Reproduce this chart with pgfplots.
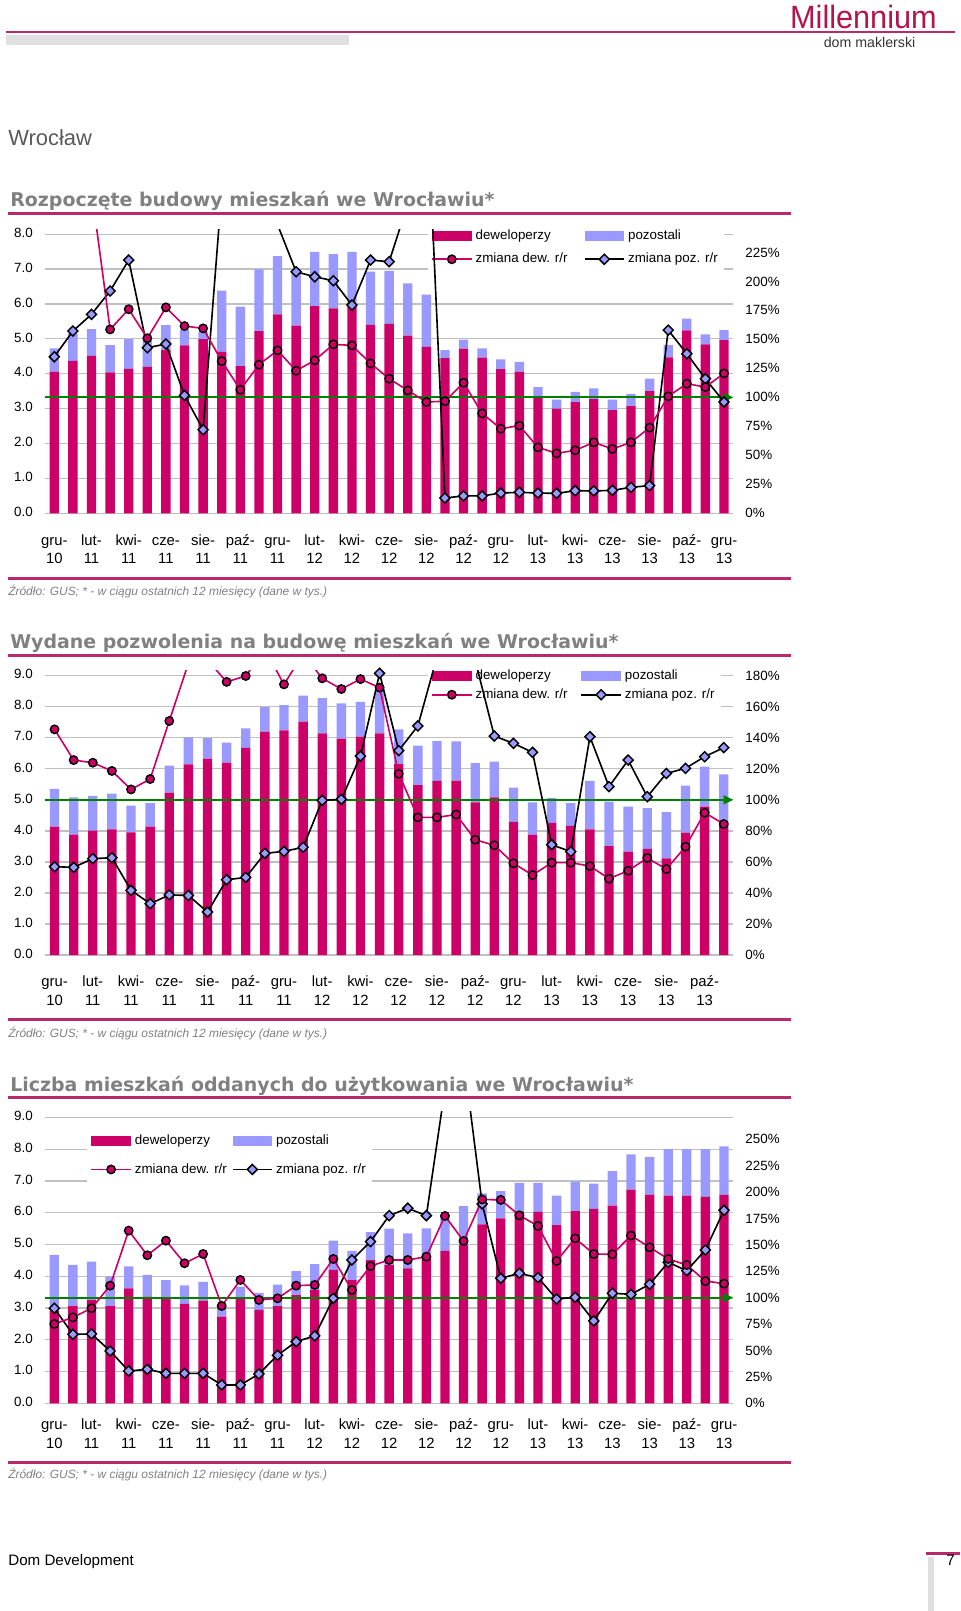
\documentclass[border=0pt]{standalone}
\usepackage{pgfplots}
\pgfplotsset{compat=1.18}
\usepackage{pgfplotstable}
\usepackage{fontspec}
\setmainfont{Liberation Sans}
\newfontfamily\titlefont{DejaVu Sans}
\usetikzlibrary{arrows.meta}

\definecolor{devcol}{RGB}{204,0,102}
\definecolor{pozcol}{RGB}{153,153,255}
\definecolor{gridcol}{RGB}{192,192,192}
\definecolor{rulecol}{RGB}{186,40,110}
\definecolor{titlegray}{RGB}{128,128,128}
\definecolor{grn}{RGB}{0,128,0}
\definecolor{logocol}{RGB}{180,20,75}

% Rozpoczete budowy
\pgfplotstableread{
i dev poz dewr pozr
0 4.06 0.67 330 135.0
1 4.37 0.78 310 157.2
2 4.51 0.77 279 171.6
3 4.04 0.78 158.6 191.7
4 4.14 0.85 176.0 218.4
5 4.20 0.75 151.0 142.8
6 4.68 0.71 177.6 146.0
7 4.81 0.44 161.5 101.7
8 4.99 0.21 159.5 72.1
9 4.63 1.75 131.3 278
10 4.22 1.70 106.6 330
11 5.22 1.77 128.2 300
12 5.70 1.67 140.5 249
13 5.38 1.62 123.0 208.3
14 5.94 1.55 131.9 204.0
15 5.87 1.56 145.7 200.6
16 5.92 1.57 144.8 179.6
17 5.40 1.53 129.3 218.4
18 5.43 1.52 116.1 217.0
19 5.09 1.50 106.0 267
20 4.77 1.50 96.0 370
21 4.45 0.23 96.7 13.2
22 4.72 0.26 112.6 15.0
23 4.46 0.27 86.2 15.0
24 4.13 0.28 73.0 17.5
25 4.06 0.28 75.6 18.1
26 3.34 0.28 56.9 17.5
27 3.00 0.26 51.7 17.2
28 3.19 0.29 54.3 19.5
29 3.27 0.31 61.2 19.3
30 2.96 0.30 55.5 19.8
31 3.07 0.35 61.2 22.4
32 3.50 0.36 73.9 23.9
33 4.47 0.35 100.9 158.0
34 5.24 0.34 111.8 137.6
35 4.84 0.29 108.9 116.1
36 4.96 0.29 120.7 96.0
}\dataA

% Wydane pozwolenia
\pgfplotstableread{
i dev poz dewr pozr
0 4.14 1.21 145.4 56.9
1 3.88 1.20 125.6 56.5
2 4.01 1.12 123.9 62.1
3 4.05 1.15 118.6 62.7
4 3.95 0.86 106.7 41.7
5 4.14 0.75 113.4 33.1
6 5.23 0.87 150.8 38.7
7 6.14 0.87 188 38.4
8 6.33 0.66 190 27.7
9 6.20 0.64 176.0 48.5
10 6.67 0.63 179.8 50.0
11 7.20 0.79 197 65.5
12 7.24 0.81 174.4 66.8
13 7.52 0.84 194 69.4
14 7.14 1.14 178.3 99.7
15 6.97 1.14 171.4 100.3
16 7.04 1.12 177.8 128.2
17 7.14 1.41 172.3 181.5
18 6.15 1.12 116.8 131.7
19 5.47 1.28 88.7 147.6
20 5.61 1.28 88.7 192
21 5.62 1.26 90.5 200
22 4.92 1.26 74.3 190
23 5.08 1.15 70.7 141.1
24 4.29 1.10 59.1 136.4
25 3.88 1.04 51.5 130.6
26 4.26 0.80 59.5 71.1
27 4.16 0.73 59.5 66.6
28 4.05 1.56 57.3 140.7
29 3.51 1.43 49.2 108.5
30 3.33 1.45 54.3 125.6
31 3.42 1.31 62.5 102.0
32 3.11 1.49 55.4 117.0
33 3.94 1.52 69.8 120.3
34 4.78 1.29 91.7 127.8
35 4.30 1.52 84.4 133.6
}\dataB

% Oddane do uzytkowania
\pgfplotstableread{
i dev poz dewr pozr
0 2.90 1.77 75.1 90.0
1 3.06 1.30 81.4 65.3
2 3.25 1.21 90.0 65.7
3 3.06 0.93 111.4 49.6
4 3.62 0.69 163.5 30.6
5 3.36 0.68 140.2 32.2
6 3.30 0.58 154.0 28.4
7 3.13 0.58 132.6 28.4
8 3.23 0.59 141.4 28.4
9 2.73 0.26 92.2 17.4
10 3.30 0.37 116.8 17.4
11 2.94 0.54 97.9 27.8
12 3.06 0.68 99.4 45.5
13 3.41 0.75 111.4 58.4
14 3.57 0.81 112.1 63.8
15 4.20 0.92 136.7 99.4
16 3.88 0.92 107.3 135.7
17 4.51 0.88 130.0 153.1
18 4.35 1.15 135.7 177.7
19 4.25 1.10 135.7 184.7
20 4.62 0.89 138.9 177.7
21 4.80 1.10 177.4 298
22 4.98 1.23 153.7 328
23 5.63 0.98 193.0 188.8
24 5.82 0.86 192.6 118.4
25 6.03 0.91 178.0 123.1
26 6.03 0.91 167.9 119.0
27 5.61 0.93 134.8 98.8
28 6.05 0.93 156.2 100.4
29 6.12 0.80 141.4 78.0
30 6.22 1.09 141.1 104.2
31 6.73 1.11 158.8 103.2
32 6.57 1.19 147.7 112.7
33 6.54 1.46 136.7 133.5
34 6.54 1.46 131.0 125.6
35 6.50 1.50 115.8 145.2
36 6.56 1.53 113.3 182.8
}\dataC

\pgfplotsset{
  barleg/.style={legend image code/.code={\fill[##1] (0pt,-3.3pt) rectangle (24.5pt,3.3pt);}},
  lineleg/.style={legend image code/.code={\draw[mark repeat=2,mark phase=2,##1,sharp plot] plot coordinates {(0pt,0pt) (12.25pt,0pt) (24.5pt,0pt)};}},
  devline/.style={devcol, line width=1pt, mark=*, mark size=2.6pt, mark options={fill=devcol, draw=black, line width=0.9pt}},
  pozline/.style={black, line width=1pt, mark=square*, mark size=2.2pt, mark options={fill=pozcol, draw=black, line width=0.9pt, rotate=45}},
  common/.style={scale only axis, width=426.75pt, axis line style={draw=none}, major tick length=0pt, ymin=0,
    tick label style={font=\fontsize{8.3}{10}\selectfont}, /pgf/number format/assume math mode=true},
  bars/.style={common, ybar stacked, bar width=5.8pt, ymajorgrids, grid style={gridcol, line width=0.8pt},
    typeset ticklabels with strut,
    xticklabel style={align=center, font=\fontsize{9.2}{11.6}\selectfont},
    yticklabel style={/pgf/number format/fixed, /pgf/number format/fixed zerofill, /pgf/number format/precision=1, xshift=-4pt},
    ytick={0,1,...,9}, legend cell align=left, legend columns=2},
  lines/.style={common, xtick=\empty, yticklabel pos=right, yticklabel style={xshift=4pt},
    yticklabel={\pgfmathprintnumber[fixed,precision=0]{\tick}\%}},
}

\newcommand{\labsA}{{gru-\\10},{lut-\\11},{kwi-\\11},{cze-\\11},{sie-\\11},{paź-\\11},{gru-\\11},{lut-\\12},{kwi-\\12},{cze-\\12},{sie-\\12},{paź-\\12},{gru-\\12},{lut-\\13},{kwi-\\13},{cze-\\13},{sie-\\13},{paź-\\13},{gru-\\13}}

\begin{document}
\begin{tikzpicture}
\path[use as bounding box] (0pt,0pt) rectangle (595.2pt,-998.82pt);
\begin{scope}[x=0.62pt,y=-0.62pt]
% header
\fill[rulecol] (6,31) rectangle (955,33);
\fill[black!12] (6,35) rectangle (349,45);
\node[anchor=base east, inner sep=0, text=logocol, font=\fontsize{20}{20}\selectfont] at (937,28.5) {\scalebox{0.95}[1]{Millennium}};
\node[anchor=base west, inner sep=0, text=black!80, font=\fontsize{8.8}{9}\selectfont] at (823.5,47) {dom maklerski};
\node[anchor=base west, inner sep=0, text=black!65, font=\fontsize{13.6}{15}\selectfont] at (8,145) {Wrocław};
% chart 1 frame
\node[anchor=base west, inner sep=0, text=titlegray, font=\titlefont\bfseries\fontsize{11.75}{14}\selectfont] at (10,206.5) {Rozpoczęte budowy mieszkań we Wrocławiu*};
\fill[rulecol] (8,212) rectangle (791,215);
\fill[rulecol] (8,577) rectangle (791,580);
\node[anchor=base west, inner sep=0, text=titlegray, font=\itshape\fontsize{7.4}{8}\selectfont] at (8,595.5) {Źródło: GUS; * - w ciągu ostatnich 12 miesięcy (dane w tys.)};
% chart 2 frame
\node[anchor=base west, inner sep=0, text=titlegray, font=\titlefont\bfseries\fontsize{11.75}{14}\selectfont] at (10,648) {Wydane pozwolenia na budowę mieszkań we Wrocławiu*};
\fill[rulecol] (8,653.5) rectangle (791,656.5);
\fill[rulecol] (8,1017.5) rectangle (791,1020.5);
\node[anchor=base west, inner sep=0, text=titlegray, font=\itshape\fontsize{7.4}{8}\selectfont] at (8,1037.5) {Źródło: GUS; * - w ciągu ostatnich 12 miesięcy (dane w tys.)};
% chart 3 frame
\node[anchor=base west, inner sep=0, text=titlegray, font=\titlefont\bfseries\fontsize{11.75}{14}\selectfont] at (10,1091) {Liczba mieszkań oddanych do użytkowania we Wrocławiu*};
\fill[rulecol] (8,1096) rectangle (791,1099);
\fill[rulecol] (8,1460.5) rectangle (791,1463.5);
\node[anchor=base west, inner sep=0, text=titlegray, font=\itshape\fontsize{7.4}{8}\selectfont] at (8,1478.5) {Źródło: GUS; * - w ciągu ostatnich 12 miesięcy (dane w tys.)};
% footer
\node[anchor=base west, inner sep=0, font=\fontsize{9.4}{11}\selectfont] at (8,1565) {Dom Development};
\fill[black!12] (928,1557) rectangle (934,1611);
\fill[rulecol] (926,1552) rectangle (960,1554.5);
\node[anchor=base west, inner sep=0, font=\fontsize{9.4}{11}\selectfont] at (946,1565) {7};
\end{scope}

% ===== Chart 1 =====
\begin{axis}[bars, at={(27.9pt,-318.25pt)}, anchor=south west, height=176.1pt,
  xmin=-0.5, xmax=36.5, ymax=8.14, xtick={0,2,...,36}, xticklabels/.expand once=\labsA,
  xticklabel style={yshift=-8pt},
  legend style={at={(0.556,1.022)}, anchor=north west, draw=none, fill=white, inner sep=2pt, row sep=3pt,
    font=\fontsize{8.3}{10}\selectfont, /tikz/every even column/.append style={column sep=8pt}}]
\addplot[fill=devcol, draw=none, barleg] table[x=i,y=dev]{\dataA}; \addlegendentry{deweloperzy}
\addplot[fill=pozcol, draw=none, barleg] table[x=i,y=poz]{\dataA}; \addlegendentry{pozostali}
\addlegendimage{devline, lineleg} \addlegendentry{zmiana dew. r/r}
\addlegendimage{pozline, lineleg} \addlegendentry{zmiana poz. r/r}
\end{axis}
\begin{axis}[lines, at={(27.9pt,-318.25pt)}, anchor=south west, height=176.1pt,
  xmin=-0.5, xmax=36.5, ymax=244.96, ytick={0,25,...,225}]
\addplot[grn, line width=1.1pt, -{Triangle[length=6pt,width=5.5pt]}] coordinates {(-0.5,100) (36.5,100)};
\addplot[pozline] table[x=i,y=pozr]{\dataA};
\addplot[devline] table[x=i,y=dewr]{\dataA};
\end{axis}

% ===== Chart 2 =====
\begin{axis}[bars, at={(27.9pt,-592.1pt)}, anchor=south west, height=176.27pt,
  xmin=-0.5, xmax=35.5, ymax=9.16, xtick={0,2,...,34},
  xticklabels={{gru-\\10},{lut-\\11},{kwi-\\11},{cze-\\11},{sie-\\11},{paź-\\11},{gru-\\11},{lut-\\12},{kwi-\\12},{cze-\\12},{sie-\\12},{paź-\\12},{gru-\\12},{lut-\\13},{kwi-\\13},{cze-\\13},{sie-\\13},{paź-\\13}},
  xticklabel style={yshift=-8pt},
  legend style={at={(0.556,1.026)}, anchor=north west, draw=none, fill=white, inner sep=2pt, row sep=0pt,
    font=\fontsize{8.3}{10}\selectfont, /tikz/every even column/.append style={column sep=6pt}}]
\addplot[fill=devcol, draw=none, barleg] table[x=i,y=dev]{\dataB}; \addlegendentry{deweloperzy}
\addplot[fill=pozcol, draw=none, barleg] table[x=i,y=poz]{\dataB}; \addlegendentry{pozostali}
\addlegendimage{devline, lineleg} \addlegendentry{zmiana dew. r/r}
\addlegendimage{pozline, lineleg} \addlegendentry{zmiana poz. r/r}
\end{axis}
\begin{axis}[lines, at={(27.9pt,-592.1pt)}, anchor=south west, height=176.27pt,
  xmin=-0.5, xmax=35.5, ymax=183.2, ytick={0,20,...,180}]
\addplot[grn, line width=1.1pt, -{Triangle[length=6pt,width=5.5pt]}] coordinates {(-0.5,100) (35.5,100)};
\addplot[pozline] table[x=i,y=pozr]{\dataB};
\addplot[devline] table[x=i,y=dewr]{\dataB};
\end{axis}

% ===== Chart 3 =====
\begin{axis}[bars, at={(27.9pt,-870.05pt)}, anchor=south west, height=180.8pt,
  xmin=-0.5, xmax=36.5, ymax=9.18, xtick={0,2,...,36}, xticklabels/.expand once=\labsA,
  xticklabel style={yshift=-4.5pt},
  legend style={at={(0.061,0.944)}, anchor=north west, draw=none, fill=white, inner sep=2pt, row sep=6.2pt,
    font=\fontsize{8.3}{10}\selectfont, /tikz/every even column/.append style={column sep=1pt}}]
\addplot[fill=devcol, draw=none, barleg] table[x=i,y=dev]{\dataC}; \addlegendentry{deweloperzy}
\addplot[fill=pozcol, draw=none, barleg] table[x=i,y=poz]{\dataC}; \addlegendentry{pozostali}
\addlegendimage{devline, lineleg} \addlegendentry{zmiana dew. r/r}
\addlegendimage{pozline, lineleg} \addlegendentry{zmiana poz. r/r}
\end{axis}
\begin{axis}[lines, at={(27.9pt,-870.05pt)}, anchor=south west, height=180.8pt,
  xmin=-0.5, xmax=36.5, ymax=276.1, ytick={0,25,...,250}]
\addplot[grn, line width=1.1pt, -{Triangle[length=6pt,width=5.5pt]}] coordinates {(-0.5,100) (36.5,100)};
\addplot[pozline] table[x=i,y=pozr]{\dataC};
\addplot[devline] table[x=i,y=dewr]{\dataC};
\end{axis}
\end{tikzpicture}
\end{document}
